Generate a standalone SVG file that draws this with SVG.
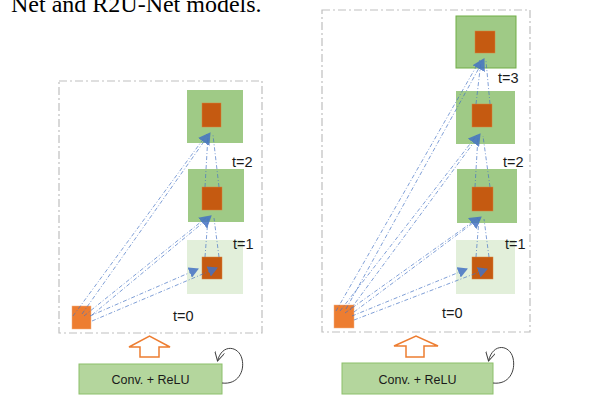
<svg xmlns="http://www.w3.org/2000/svg" width="592" height="401" viewBox="0 0 592 401">
<defs>
<style>
.frame{fill:none;stroke:#bfbfbf;stroke-width:1.2;stroke-dasharray:8 3 2 3}
.dk{fill:#9fca86}
.lt{fill:#e2efda}
.sq{fill:#c55a11;stroke:#d9823f;stroke-width:0.5}
.src{fill:#ed7d31;stroke:#f4b183;stroke-width:0.5}
.lbl{font-family:"Liberation Sans",Arial,sans-serif;font-size:14.5px;fill:#1a1a1a}
.conv{fill:#b4d69d;stroke:#8cc06a;stroke-width:1}
.convt{font-family:"Liberation Sans",Arial,sans-serif;font-size:12.5px;fill:#1a1a1a;text-anchor:middle}
.up{fill:#fff;stroke:#ed7d31;stroke-width:1.5}
.loop{fill:none;stroke:#404040;stroke-width:1;marker-end:url(#open)}
.ln{fill:none;stroke:#4472c4;stroke-width:0.8;stroke-dasharray:4 2 1 2;opacity:0.85}
.ah{marker-end:url(#tri)}
.ah2{marker-end:url(#tri2)}
</style>
<marker id="tri" viewBox="0 0 12 14" refX="11" refY="7" markerWidth="12" markerHeight="14" markerUnits="userSpaceOnUse" orient="auto">
<path d="M0,0 L12,7 L0,14 z" fill="#4472c4"/>
</marker>
<marker id="tri2" viewBox="0 0 10 11" refX="9" refY="5.5" markerWidth="10" markerHeight="11" markerUnits="userSpaceOnUse" orient="auto">
<path d="M0,0 L10,5.5 L0,11 z" fill="#4472c4"/>
</marker>
<marker id="open" viewBox="0 0 10 10" refX="9" refY="5" markerWidth="10" markerHeight="10" markerUnits="userSpaceOnUse" orient="auto">
<path d="M0,0 L9,5 L0,10" fill="none" stroke="#404040" stroke-width="1"/>
</marker>
</defs>
<rect width="592" height="401" fill="#fff"/>
<text x="11" y="12" font-family="'Liberation Serif','Times New Roman',serif" font-size="24" fill="#000">Net and R2U-Net models.</text>

<g id="left-panel">
<rect class="frame" x="59" y="81" width="203" height="252"/>
</g>
<g id="left-t3"><rect class="dk" x="187" y="90" width="56" height="53"/><rect class="sq" x="202" y="103" width="19" height="24"/></g>
<g id="left-t2"><rect class="dk" x="188" y="169" width="56" height="53"/><rect class="sq" x="202" y="187" width="20" height="23"/></g>
<g id="left-t1"><rect class="lt" x="187" y="240" width="56" height="54"/><rect class="sq" x="202" y="257" width="20" height="22"/></g>
<g id="left-t0"><rect class="src" x="72" y="306" width="19" height="23"/></g>
<g id="left-labels">
<text class="lbl" x="232" y="167">t=2</text>
<text class="lbl" x="233" y="249">t=1</text>
<text class="lbl" x="173" y="321">t=0</text>
</g>

<g id="right-panel">
<rect class="frame" x="322" y="10" width="208" height="322"/>
</g>
<g id="right-t4"><rect class="dk" x="456" y="16" width="60" height="52" stroke="#70ad47" stroke-width="1"/><rect class="sq" x="475" y="31" width="20" height="22"/></g>
<g id="right-t3"><rect class="dk" x="456" y="91" width="59" height="53"/><rect class="sq" x="472" y="104" width="20" height="23"/></g>
<g id="right-t2"><rect class="dk" x="457" y="169" width="60" height="54"/><rect class="sq" x="472" y="187" width="21" height="24"/></g>
<g id="right-t1"><rect class="lt" x="456" y="240" width="59" height="54"/><rect class="sq" x="472" y="257" width="21" height="22"/></g>
<g id="right-t0"><rect class="src" x="334" y="305" width="20" height="23"/></g>
<g id="right-labels">
<text class="lbl" x="498" y="83">t=3</text>
<text class="lbl" x="503" y="167">t=2</text>
<text class="lbl" x="505" y="249">t=1</text>
<text class="lbl" x="442" y="318">t=0</text>
</g>

<g id="connectors">
<path class="ln ah2" d="M90,316 L198,269"/>
<path class="ln ah2" d="M92,321 L217,268"/>
<path class="ln" d="M84,316 L207,217"/>
<path class="ln ah" d="M92,315 L211,216"/>
<path class="ln" d="M73,316 L207,134"/>
<path class="ln ah" d="M82,314 L210,133"/>
<path class="ln" d="M205,257 L208,218 M219,257 L214,218"/>
<path class="ln" d="M205,187 L208,135 M219,187 L213,135"/>

<path class="ln ah2" d="M352,316 L467,269"/>
<path class="ln ah2" d="M354,320 L487,269"/>
<path class="ln" d="M345,313 L478,218"/>
<path class="ln ah" d="M354,312 L481,217"/>
<path class="ln" d="M340,311 L477,135"/>
<path class="ln ah" d="M350,310 L480,134"/>
<path class="ln" d="M336,311 L480,60"/>
<path class="ln ah" d="M346,309 L484,59"/>
<path class="ln" d="M476,257 L479,219 M489,257 L484,219"/>
<path class="ln" d="M475,187 L478,136 M490,187 L483,136"/>
<path class="ln" d="M476,104 L481,61 M490,104 L486,61"/>
</g>

<g id="left-conv">
<path class="up" d="M140,357 L159,357 L159,347 L170,347 L149.5,336 L129,347 L140,347 z"/>
<rect class="conv" x="79" y="364" width="143" height="30"/>
<text class="convt" x="150.5" y="384">Conv. + ReLU</text>
<path class="loop" d="M222,383 C238,385 245,371 242,359 C239,346 222,343 217.5,361"/>
</g>
<g id="right-conv">
<path class="up" d="M406,357 L424,357 L424,346 L438,346 L416,336 L394,346 L406,346 z"/>
<rect class="conv" x="342" y="363" width="151" height="31"/>
<text class="convt" x="417.5" y="384">Conv. + ReLU</text>
<path class="loop" d="M493,383 C509,385 516,371 513,358 C510,345 493,342 488.5,361"/>
</g>
</svg>
